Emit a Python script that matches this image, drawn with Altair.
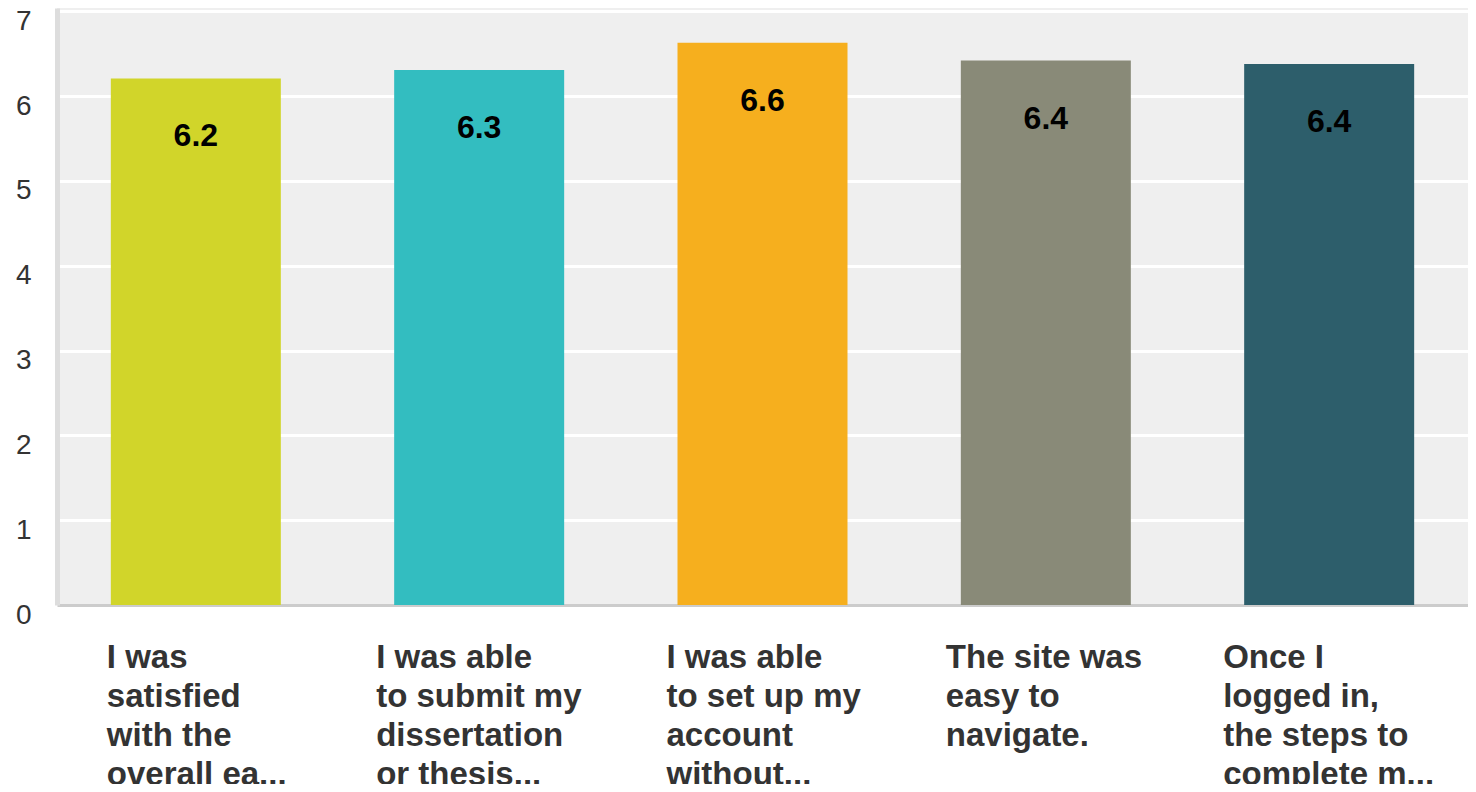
import altair as alt
import pandas as pd

categories = [
    "I was|satisfied|with the|overall ea...",
    "I was able|to submit my|dissertation|or thesis...",
    "I was able|to set up my|account|without...",
    "The site was|easy to|navigate.",
    "Once I|logged in,|the steps to|complete m...",
]
values = [6.21, 6.31, 6.63, 6.42, 6.38]
labels = ["6.2", "6.3", "6.6", "6.4", "6.4"]
colors = ["#D1D52A", "#33BDC0", "#F6AF1E", "#898A78", "#2D5E6B"]
y_ticks = [0, 1, 2, 3, 4, 5, 6, 7]

df = pd.DataFrame({"cat": categories, "value": values, "label": labels})

label_offsets = [-89, -103, -96, -100, -106]
offset_cond = {
    "condition": [
        {"test": f"datum.value == '{c}'", "value": o}
        for c, o in zip(categories, label_offsets)
    ],
    "value": -100,
}

x = alt.X(
    "cat:N",
    sort=categories,
    title=None,
    scale=alt.Scale(paddingInner=0.4, paddingOuter=0.19),
    axis=alt.Axis(
        labelExpr="split(datum.value, '|')",
        labelAngle=0,
        labelAlign="left",
        labelBaseline="top",
        labelOffset=offset_cond,
        labelPadding=36,
        labelFont="Liberation Sans",
        labelFontSize=33,
        labelFontWeight="bold",
        labelColor="#333333",
        labelLineHeight=39,
        labelLimit=400,
        ticks=False,
        domainColor="#CCCCCC",
        domainWidth=3,
        grid=False,
    ),
)

y = alt.Y(
    "value:Q",
    title=None,
    scale=alt.Scale(domain=[0, 7.04], nice=False),
    axis=alt.Axis(
        values=y_ticks,
        format="d",
        labelFont="Liberation Sans",
        labelFontSize=28,
        labelColor="#333333",
        labelAlign="right",
        labelBaseline="middle",
        labelOffset=10,
        labelPadding=26,
        ticks=False,
        domainColor="#DDDDDD",
        domainWidth=5,
        gridColor="#FFFFFF",
        gridWidth=3,
    ),
)

bars = alt.Chart(df).mark_bar().encode(
    x=x,
    y=y,
    color=alt.Color("cat:N", sort=categories, scale=alt.Scale(domain=categories, range=colors), legend=None),
)

text = alt.Chart(df).mark_text(
    baseline="middle", dy=58, font="Liberation Sans", fontSize=32, fontWeight="bold", color="#000000"
).encode(
    x=alt.X("cat:N", sort=categories),
    y=alt.Y("value:Q"),
    text="label:N",
)

chart = (
    alt.layer(bars, text)
    .properties(
        width=1411,
        height=597,
        autosize=alt.AutoSizeParams(type="none"),
        padding={"left": 49, "top": 0, "right": 0, "bottom": 179},
        background="#FFFFFF",
    )
    .configure_view(fill="#EFEFEF", stroke=None)
)

chart.save("out.html", embed_options={"renderer": "svg", "actions": False})
